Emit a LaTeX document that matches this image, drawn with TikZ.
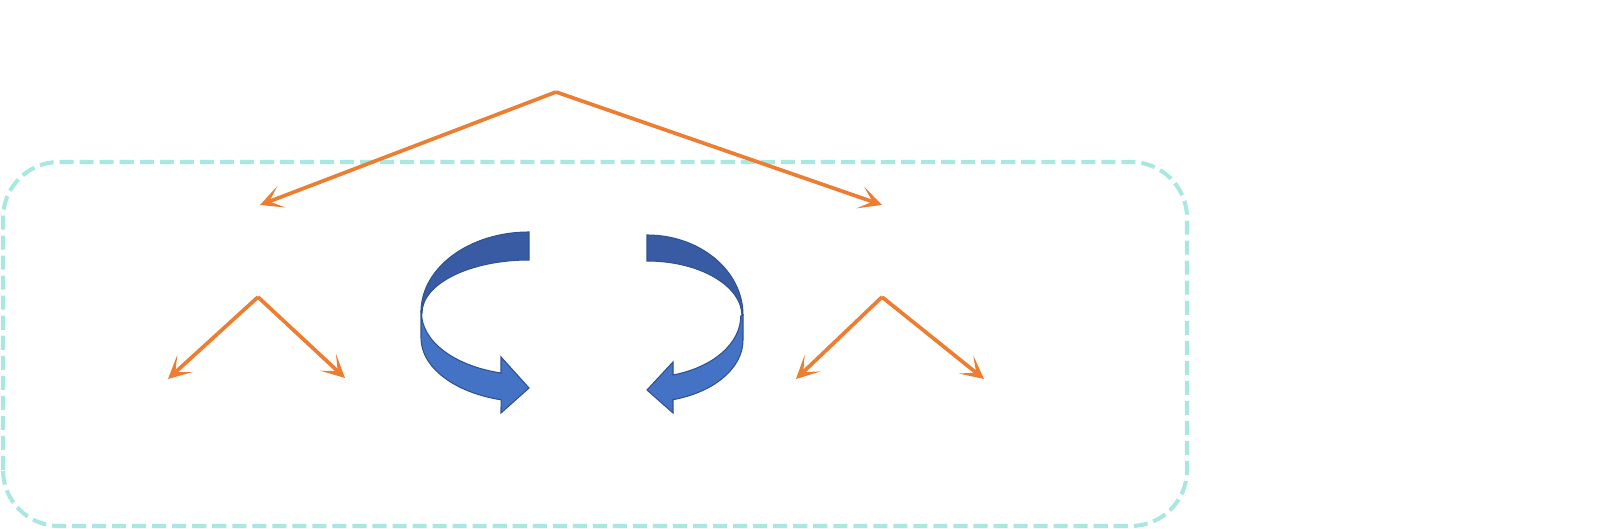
\documentclass[tikz,border=0pt]{standalone}
\usepackage{tikz}
\usetikzlibrary{arrows.meta}
\usepackage{tkz-graph}
\definecolor{orangeline}{RGB}{237,125,49}
\definecolor{boxline}{RGB}{168,232,224}
\definecolor{cyclefront}{RGB}{68,114,196}
\definecolor{cycletop}{RGB}{57,91,163}
\definecolor{cycleedge}{RGB}{47,82,143}

\begin{document}
\begin{tikzpicture}[transform shape]
  \useasboundingbox (0,0) rectangle (15.99,5.29);

  \draw[boxline, line width=1.15pt, dash pattern=on 4pt off 1.7pt,
        rounded corners=0.56cm] (0.03,0.03) rectangle (11.87,3.67);

\tikzstyle{VertexStyle}=[shape=coordinate]
  \Vertex[x=5.56,y=4.37,NoLabel]{a}
  \Vertex[x=2.60,y=3.24,NoLabel]{b}
  \Vertex[x=8.82,y=3.24,NoLabel]{c}
  \Vertex[x=2.58,y=2.32,NoLabel]{d}
  \Vertex[x=1.68,y=1.50,NoLabel]{e}
  \Vertex[x=3.45,y=1.51,NoLabel]{f}
  \Vertex[x=8.82,y=2.32,NoLabel]{g}
  \Vertex[x=7.96,y=1.50,NoLabel]{h}
  \Vertex[x=9.84,y=1.50,NoLabel]{i}

\tikzstyle{EdgeStyle}=[draw, orangeline, line width=1.05pt,
  -{Stealth[length=0.23cm, width=0.23cm, inset=0.13cm]}]
\Edge(a)(b)
\Edge(a)(c)
\Edge(d)(e)
\Edge(d)(f)
\Edge(g)(h)
\Edge(g)(i)

\tikzstyle{CycleTop}=[fill=cycletop, draw=cycleedge, line width=0.3pt]
\tikzstyle{CycleFront}=[fill=cyclefront, draw=cycleedge, line width=0.3pt]
  % left turning arrow
  \path[CycleTop] (5.29,2.97) arc[start angle=90, end angle=180, x radius=1.08, y radius=0.80]
    -- (4.22,2.16) arc[start angle=180, end angle=90, x radius=1.07, y radius=0.53] -- cycle;
  \path[CycleFront] (4.21,2.17) -- (4.21,1.91)
    arc[start angle=180, end angle=255, x radius=1.08, y radius=0.64]
    -- (5.01,1.16) -- (5.29,1.41) -- (5.01,1.72) -- (5.01,1.56)
    arc[start angle=255.5, end angle=180, x radius=1.06, y radius=0.62] -- cycle;
  % right turning arrow
  \path[CycleTop] (6.47,2.94) arc[start angle=90, end angle=0, x radius=0.96, y radius=0.80]
    -- (7.42,2.13) arc[start angle=0, end angle=90, x radius=0.95, y radius=0.55] -- cycle;
  \path[CycleFront] (7.43,2.14) -- (7.43,1.89)
    arc[start angle=0, end angle=-74.3, x radius=0.96, y radius=0.62]
    -- (6.73,1.16) -- (6.47,1.39) -- (6.73,1.67) -- (6.73,1.54)
    arc[start angle=-73.8, end angle=0, x radius=0.94, y radius=0.615] -- cycle;
\end{tikzpicture}
\end{document}
